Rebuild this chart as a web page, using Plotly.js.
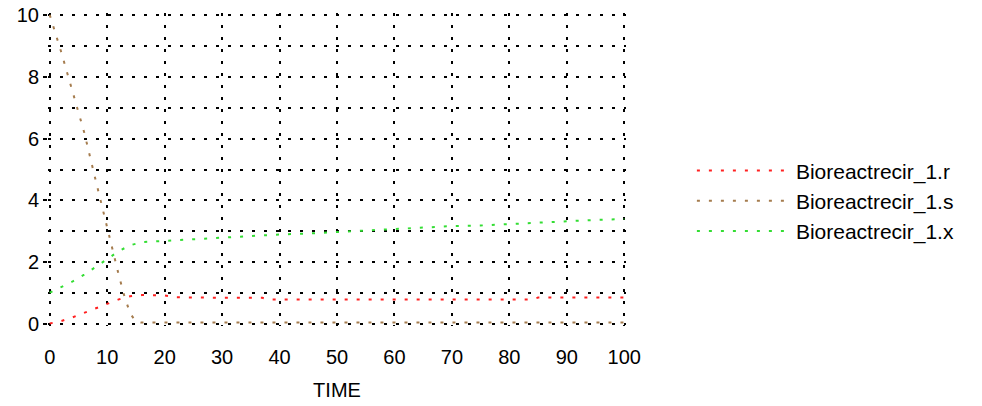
<!DOCTYPE html>
<html>
<head>
<meta charset="utf-8">
<script src="https://cdn.plot.ly/plotly-3.0.1.min.js"></script>
<style>html,body{margin:0;padding:0;background:#fff;}#chart{width:982px;height:406px;}</style>
</head>
<body>
<div id="chart"></div>
<script>
// Bioreactrecir_1.r
const timeR = [0, 2, 4, 6, 8, 10, 12, 14, 16, 20, 22, 30, 37, 38, 84, 85, 100];
const valR  = [0.02, 0.1, 0.22, 0.36, 0.52, 0.65, 0.8, 0.9, 0.94, 0.93, 0.87, 0.85, 0.85, 0.8, 0.8, 0.86, 0.86];
// Bioreactrecir_1.s
const timeS = [0, 2, 4, 6, 8, 10, 11, 12, 13, 14, 15, 16, 100];
const valS  = [10, 8.8, 7.5, 6.2, 4.65, 3.1, 2.35, 1.6, 0.9, 0.35, 0.08, 0.05, 0.05];
// Bioreactrecir_1.x
const timeX = [0, 2, 4, 6, 8, 10, 12, 14, 16, 18, 20, 25, 30, 35, 40, 45, 50, 55, 60, 65, 70, 75, 80, 85, 88, 90, 95, 100];
const valX  = [1.02, 1.19, 1.38, 1.6, 1.84, 2.1, 2.36, 2.55, 2.65, 2.67, 2.71, 2.75, 2.8, 2.86, 2.9, 2.93, 2.98, 3.03, 3.06, 3.12, 3.17, 3.19, 3.24, 3.27, 3.3, 3.33, 3.37, 3.4];

const seriesNames = ['Bioreactrecir_1.r', 'Bioreactrecir_1.s', 'Bioreactrecir_1.x'];
const seriesColors = ['#ff2020', '#a57c4e', '#33dd33'];
const xTitle = 'TIME';

const FONT = 'Liberation Sans, Arial, sans-serif';
const dash = '3px,9px';

const traces = [[timeR, valR], [timeS, valS], [timeX, valX]].map((d, i) => ({
  x: d[0], y: d[1], type: 'scatter', mode: 'lines', name: seriesNames[i],
  line: {color: seriesColors[i], width: 2, dash: dash}
}));

const layout = {
  width: 982, height: 406,
  margin: {l: 48, r: 356, t: 13, b: 80},
  paper_bgcolor: '#fff', plot_bgcolor: '#fff',
  font: {family: FONT, size: 20, color: '#000'},
  showlegend: true,
  legend: {x: 1.114, y: 0.40, xanchor: 'left', yanchor: 'middle', itemwidth: 94,
           font: {family: FONT, size: 21, color: '#000'}, bgcolor: 'rgba(0,0,0,0)', tracegroupgap: 0},
  xaxis: {
    range: [-0.3, 100.3], dtick: 10, tick0: 0, showline: false, zeroline: false,
    showgrid: true, gridcolor: '#000', gridwidth: 2, griddash: dash,
    ticks: 'outside', ticklen: 13, tickcolor: 'rgba(0,0,0,0)',
    tickfont: {family: FONT, size: 20, color: '#000'},
    title: {text: xTitle, font: {family: FONT, size: 20, color: '#000'}, standoff: 15}
  },
  yaxis: {
    range: [-0.06, 10.06], dtick: 2, tick0: 0, showline: false, zeroline: false,
    showgrid: true, gridcolor: '#000', gridwidth: 2, griddash: dash,
    minor: {dtick: 1, showgrid: true, gridcolor: '#000', gridwidth: 2, griddash: dash},
    ticks: 'outside', ticklen: 4, tickwidth: 2, tickcolor: '#000',
    tickfont: {family: FONT, size: 20, color: '#000'}
  }
};

Plotly.newPlot('chart', traces, layout, {displayModeBar: false, staticPlot: true});
</script>
</body>
</html>
